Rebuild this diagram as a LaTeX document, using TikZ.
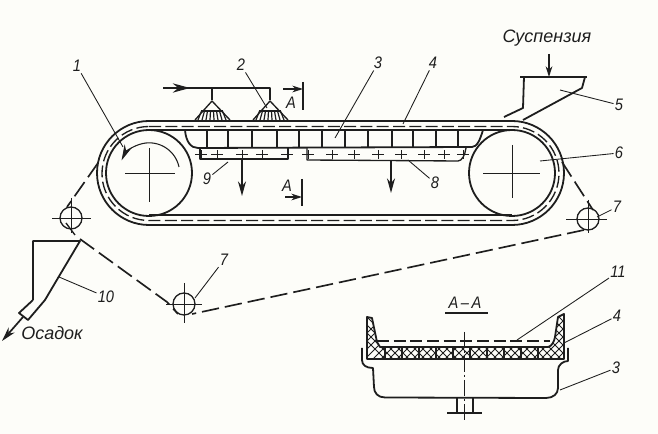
\documentclass[tikz,border=0pt]{standalone}
\usepackage{fontspec}
\setmainfont{Liberation Sans}
\usetikzlibrary{arrows.meta,calc}
\definecolor{ink}{HTML}{1E1E1E}
\definecolor{paper}{HTML}{FDFDF9}
\tikzset{
  heavy/.style={draw=ink,line width=1.35pt,line join=round},
  midline/.style={draw=ink,line width=1pt,line join=round},
  leader/.style={draw=ink,line width=.65pt},
  crossline/.style={draw=ink,line width=.6pt},
  beltdash/.style={draw=ink,line width=1pt,dash pattern=on 9pt off 3.2pt},
  tie/.style={draw=ink,line width=1.25pt,dash pattern=on 13pt off 4.5pt},
  lab/.style={font=\itshape\fontsize{12.5}{13}\selectfont,text=ink,inner sep=1pt,xscale=.88},
  captext/.style={font=\itshape\fontsize{13.5}{14}\selectfont,text=ink,inner sep=1pt},
  flow/.style={draw=ink,line width=1.3pt,-{Stealth[length=11pt,width=6pt]}},
  smallflow/.style={draw=ink,line width=1pt,-{Stealth[length=8pt,width=5pt]}},
}
\begin{document}
\begin{tikzpicture}[x=.75pt,y=-.75pt]
\useasboundingbox (0,0) rectangle (658,434);
\fill[paper] (0,0) rectangle (658,434);
% belt
\draw[heavy] (149,121) -- (512,121) arc[start angle=-90,end angle=90,radius=52] -- (149,225) arc[start angle=90,end angle=270,radius=52] -- cycle;
\draw[beltdash] (149,126.5) -- (512,126.5) arc[start angle=-90,end angle=90,radius=47] -- (149,220.5) arc[start angle=90,end angle=270,radius=47] -- cycle;
\draw[heavy] (149,130) -- (512,130);
\draw[heavy] (149,215) -- (512,215);
% drums
\node[heavy,circle,minimum size=86*.75pt,inner sep=0pt] (drumL) at (149,173) {};
\node[heavy,circle,minimum size=86*.75pt,inner sep=0pt] (drumR) at (512,173) {};
\draw[crossline] (125,173) -- (175,173) (149,148) -- (149,202);
\draw[crossline] (483,173) -- (540,173) (512,145) -- (512,198);
\draw[midline,line width=.8pt,-{Stealth[length=12pt,width=6pt]}] (179,167) arc[start angle=-12,end angle=-155,radius=30.5] ;
% trays
\draw[heavy] (185,130) .. controls (186,142) and (191,148) .. (198,148) -- (472,147) .. controls (477,147) and (480,140) .. (483,130);
\foreach \x in {207,228,252,277,299,322,345,368,392,413,436,458}
  \draw[midline] (\x,130) -- (\x,148);
% vacuum boxes
\draw[midline] (200,148) -- (200,159) -- (288,159) -- (288,148);
\draw[midline] (307,148) -- (307,160) -- (458,161) .. controls (462,161) and (465,155) .. (466,148);
\foreach \x in {201,217,242,262,287,308,332,354,378,401,424,444,463}
  \draw[crossline] (\x-6,154.5) -- (\x+6,154.5) (\x,150) -- (\x,159);
\draw[flow] (242,159) -- (242,196);
\draw[flow] (391,161) -- (391,193);
% pipe and nozzles
\draw[heavy] (163,88) -- (270,88) -- (270,100);
\draw[heavy] (212,88) -- (212,100);
\draw[flow,-{Stealth[length=13pt,width=7pt]}] (165,88) -- (190,88);
\foreach \c in {212,270}{
  \draw[midline] (\c-17,120) -- (\c,101) -- (\c+18,120);
  \draw[midline] (\c-11,111) -- (\c+11,111);
  \foreach \d in {-14,-10,-6,-2,2,6,10,14}
    \draw[draw=ink,line width=.9pt] (\c+\d*.75,111) -- (\c+\d,120);
}
% section marks
\draw[heavy] (303,82) -- (303,110);
\draw[heavy] (302,179) -- (302,206);
\draw[smallflow] (283,89) -- (303,89);
\draw[smallflow] (285,197) -- (302,197);
\node[lab] (markA1) at (291,103) {А};
\node[lab] (markA2) at (287,186) {А};
% feed hopper
\draw[heavy] (520,77) -- (587,77);
\draw[heavy] (524,77) -- (523,108) -- (504,117);
\draw[heavy] (585,77) -- (582,88) -- (523,120);
\draw[smallflow,line width=1.2pt] (549,54) -- (549,77);
\node[captext] (feed) at (547,38) {Суспензия};
% tie rollers
\node[midline,circle,minimum size=22*.75pt,inner sep=0pt] (rollR) at (588,219) {};
\draw[crossline] (566,219) -- (607,219) (588,200) -- (588,233);
\node[midline,circle,minimum size=22*.75pt,inner sep=0pt] (rollL) at (71,218) {};
\draw[crossline] (52,218) -- (91,218) (71,198) -- (71,233);
\node[midline,circle,minimum size=22*.75pt,inner sep=0pt] (rollB) at (184,304) {};
\draw[crossline] (166,304) -- (202,304) (184,283) -- (184,323);
% filter cloth
\draw[tie] (562,162) -- (593,210);
\draw[tie] (584,230) -- (192,314);
\draw[tie] (98,163) -- (67,207);
\draw[midline] (66,223) -- (75,235);
\draw[tie] (80,239) -- (167,302) -- (178,314);
% discharge hopper
\draw[heavy] (33,300) -- (33,241) -- (80,241) -- (58,278) -- (45,300) -- (28,320) -- (19,313) -- (33,300);
\draw[flow,-{Stealth[length=11pt,width=6pt]}] (23,317) -- (2,341);
\node[captext] (solids) at (52,333) {Осадок};
% section A-A
\node[lab] (secA) at (465,303) {А\,--\,А};
\draw[heavy] (445,313) -- (488,313);
\def\beltshape{(367,317) -- (372,318) -- (377,342) -- (380,347) -- (548,347) .. controls (552,346) and (554,342) .. (555,337) -- (558,317) -- (564,314) -- (564,359) -- (367,359) -- cycle}
\begin{scope}
  \clip \beltshape;
  \foreach \s in {-24,-16,...,240}{
    \draw[ink,line width=.75pt] (360+\s,364) -- (360+\s+54,310);
    \draw[ink,line width=.75pt] (360+\s,310) -- (360+\s+54,364);
  }
  \foreach \x in {385,402,419,436,453,470,487,504,521,538}
    \draw[ink,line width=1.5pt] (\x,347) -- (\x,359);
\end{scope}
\draw[heavy] \beltshape;
\draw[midline,dash pattern=on 9pt off 3.5pt,line width=1.2pt] (377,341) -- (550,341);
\draw[heavy] (362,348) -- (362,360) .. controls (362,365) and (366,368) .. (373,368) -- (374,387) .. controls (374,393) and (378,397.5) .. (385,397.5) -- (546,398) .. controls (553,398) and (558,394) .. (558,388) -- (558,370) .. controls (558,365) and (563,361) .. (568,361) -- (568,348);
\draw[midline] (457,398) -- (457,413) (473,398) -- (473,413);
\draw[heavy] (447,413) -- (482,413);
\draw[draw=ink,line width=.7pt,dash pattern=on 12pt off 2pt on 2pt off 2pt] (464,332) -- (464,422);
% labels and leaders
\node[lab] (n1) at (77,66) {1};
\node[lab] (n2) at (241,65) {2};
\node[lab] (n3) at (378,63) {3};
\node[lab] (n4) at (433,63) {4};
\node[lab] (n5) at (619,105) {5};
\node[lab] (n6) at (619,153) {6};
\node[lab] (n7a) at (617,207) {7};
\node[lab] (n7b) at (224,260) {7};
\node[lab] (n8) at (435,183) {8};
\node[lab] (n9) at (207,179) {9};
\node[lab] (n10) at (106,297) {10};
\node[lab] (n11) at (618,272) {11};
\node[lab] (n4b) at (617,316) {4};
\node[lab] (n3b) at (616,368) {3};
\draw[leader] (n1) -- (123,147);
\draw[leader] (n2) -- (267,108);
\draw[leader] (n3) -- (335,138);
\draw[leader] (n4) -- (403,124);
\draw[leader] (n5) -- (560,90);
\draw[leader] (n6) -- (540,161);
\draw[leader] (n7a) -- (597,217);
\draw[leader] (n7b) -- (195,298);
\draw[leader] (n8) -- (408,160);
\draw[leader] (n9) -- (228,162);
\draw[leader] (n10) -- (59,277);
\draw[leader] (n11) -- (517,340);
\draw[leader] (n4b) -- (564,343);
\draw[leader] (n3b) -- (560,390);
\end{tikzpicture}
\end{document}
